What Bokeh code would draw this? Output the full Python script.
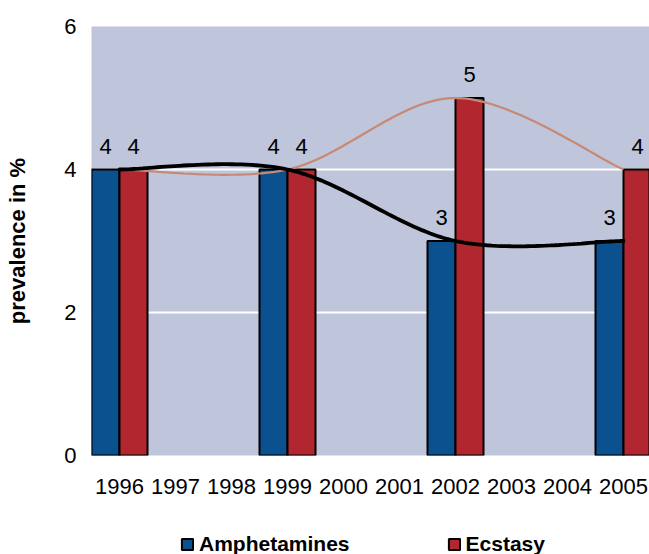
import math
from bokeh.plotting import figure
from bokeh.layouts import column
from bokeh.models import (ColumnDataSource, Range1d, FixedTicker, Legend,
                          LegendItem, LabelSet)
from bokeh.transform import dodge
from bokeh.core.properties import value
from bokeh.embed import file_html
from bokeh.resources import INLINE

# ---------------- data ----------------
years = [1996, 1997, 1998, 1999, 2000, 2001, 2002, 2003, 2004, 2005]
survey_years = [1996, 1999, 2002, 2005]
amphetamines = [4, 4, 3, 3]
ecstasy = [4, 4, 5, 4]
y_ticks = [0, 2, 4, 6]
series_names = ["Amphetamines", "Ecstasy"]
y_title = "prevalence in %"

# ---------------- style ----------------
FONT = "Liberation Sans"
BG = "#BFC5DA"
BLUE = "#0B5190"
RED = "#B1262F"
TAN = "#C68A74"


def smooth(xs, ys, n=40):
    """Excel-like smoothed line: cubic Bezier segments with
    Catmull-Rom control points (tension 1/6)."""
    px, py = [], []
    m = len(xs)
    for i in range(m - 1):
        x0, y0 = (xs[i - 1], ys[i - 1]) if i > 0 else (xs[i], ys[i])
        x1, y1 = xs[i], ys[i]
        x2, y2 = xs[i + 1], ys[i + 1]
        x3, y3 = (xs[i + 2], ys[i + 2]) if i + 2 < m else (x2, y2)
        c1x, c1y = x1 + (x2 - x0) / 6, y1 + (y2 - y0) / 6
        c2x, c2y = x2 - (x3 - x1) / 6, y2 - (y3 - y1) / 6
        last = 1 if i == m - 2 else 0
        for k in range(n + last):
            t = k / n
            a, b, c, d = (1 - t) ** 3, 3 * (1 - t) ** 2 * t, 3 * (1 - t) * t ** 2, t ** 3
            px.append(a * x1 + b * c1x + c * c2x + d * x2)
            py.append(a * y1 + b * c1y + c * c2y + d * y2)
    return px, py


src = ColumnDataSource(dict(
    year=survey_years,
    amph=amphetamines,
    ecst=ecstasy,
    amph_lbl=[str(v) for v in amphetamines],
    ecst_lbl=[str(v) for v in ecstasy],
))

x_lo, x_hi = 1995.5, 1995.5 + 558 / 56

p = figure(
    width=649, height=524,
    x_range=Range1d(x_lo, x_hi),
    y_range=Range1d(0, 6),
    output_backend="svg", toolbar_location=None,
    min_border_left=91, min_border_right=0,
    min_border_top=26, min_border_bottom=69,
)
p.background_fill_color = BG
p.border_fill_color = "white"
p.outline_line_color = None

# grid
p.xgrid.grid_line_color = None
p.ygrid.grid_line_color = "white"
p.ygrid.grid_line_width = 2
p.ygrid.ticker = FixedTicker(ticks=y_ticks)

# axes
for ax in (p.xaxis[0], p.yaxis[0]):
    ax.axis_line_color = None
    ax.major_tick_line_color = None
    ax.minor_tick_line_color = None
    ax.major_tick_out = 0
    ax.major_tick_in = 0
    ax.major_label_text_font = FONT
    ax.major_label_text_font_size = "22px"
    ax.major_label_text_color = "black"
p.xaxis.ticker = FixedTicker(ticks=years)
p.xaxis.major_label_standoff = 23
p.yaxis.ticker = FixedTicker(ticks=y_ticks)
p.yaxis.major_label_standoff = 15
p.yaxis.axis_label = y_title
p.yaxis.axis_label_standoff = 31
p.yaxis.axis_label_text_font = FONT
p.yaxis.axis_label_text_font_size = "22px"
p.yaxis.axis_label_text_font_style = "bold"
p.yaxis.axis_label_text_color = "black"

# bars
rb = p.vbar(x=dodge("year", -0.25, range=p.x_range), top="amph", width=0.5,
            source=src, fill_color=BLUE, line_color="black", line_width=2)
rr = p.vbar(x=dodge("year", 0.25, range=p.x_range), top="ecst", width=0.5,
            source=src, fill_color=RED, line_color="black", line_width=2)

# smoothed trend lines
ex, ey = smooth(survey_years, ecstasy)
p.line(ex, ey, line_color=TAN, line_width=2.2)
ax_, ay_ = smooth(survey_years, amphetamines)
p.line(ax_, ay_, line_color="black", line_width=3.8, line_cap="round")

# data labels
for col, off in (("amph", -0.25), ("ecst", 0.25)):
    p.add_layout(LabelSet(
        x=dodge("year", off, range=p.x_range), y=col, text=col + "_lbl",
        source=src, text_align="center", text_baseline="bottom", y_offset=16,
        text_font=value(FONT), text_font_size=value("22px"), text_color="black"))

# legend strip underneath the chart; its key renderers are zero-size bars
# (bottom == top, width 0) outside the strip's y range, so only the keys show
lf = figure(width=649, height=30, x_range=Range1d(x_lo, x_hi),
            y_range=Range1d(10, 11),
            x_axis_type=None, y_axis_type=None, output_backend="svg",
            toolbar_location=None, min_border=0)
lf.outline_line_color = None
lf.grid.grid_line_color = None
lf.background_fill_color = "white"
kb = lf.vbar(x="year", top="amph", bottom="amph", width=0, source=src,
             fill_color=BLUE, line_color="black", line_width=2)
kr = lf.vbar(x="year", top="ecst", bottom="ecst", width=0, source=src,
             fill_color=RED, line_color="black", line_width=2)
legend = Legend(
    items=[LegendItem(label=series_names[0], renderers=[kb]),
           LegendItem(label=series_names[1], renderers=[kr])],
    location=(89, -2), orientation="horizontal",
    glyph_width=14, glyph_height=14, label_standoff=5, spacing=97,
    padding=0, margin=0, border_line_color=None, background_fill_alpha=0,
    label_text_font=FONT, label_text_font_size="21px", label_text_color="black",
    label_text_font_style="bold", label_height=14,
)
lf.add_layout(legend)

open("out.html", "w").write(file_html(column(p, lf, spacing=0), INLINE))
